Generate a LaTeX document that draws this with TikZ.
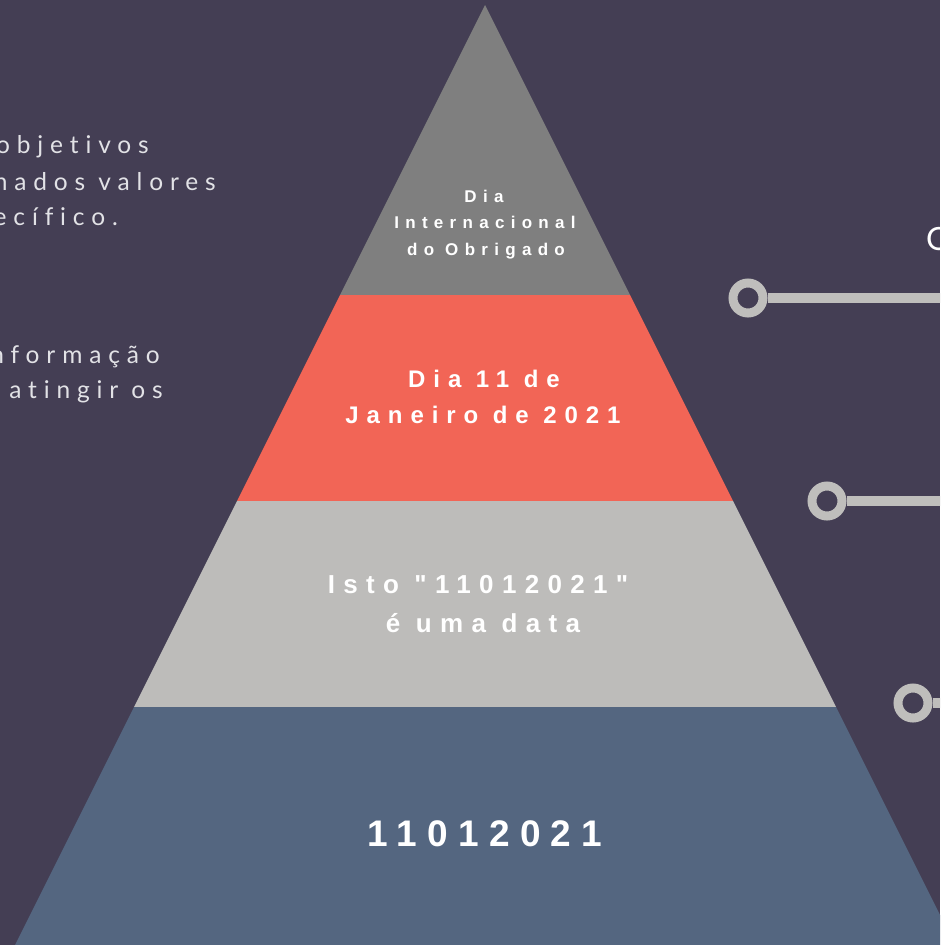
\documentclass[tikz,border=0pt]{standalone}
\usepackage{fontspec}
\setmainfont{Liberation Sans}
\newfontfamily\latofont[LetterSpace=28,Ligatures=NoCommon]{Lato}
\newfontfamily\latoplain{Lato}
\newfontfamily\pyrfontA[LetterSpace=37]{Liberation Sans}
\newfontfamily\pyrfontB[LetterSpace=33]{Liberation Sans}
\newfontfamily\pyrfontC[LetterSpace=32]{Liberation Sans}
\newfontfamily\pyrfontD[LetterSpace=28]{Liberation Sans}
\definecolor{bg}{HTML}{443E54}
\definecolor{topgray}{HTML}{7F7F7F}
\definecolor{redband}{HTML}{F26556}
\definecolor{lightband}{HTML}{BDBCBA}
\definecolor{blueband}{HTML}{546680}
\definecolor{sidetext}{HTML}{E2E2E6}
\definecolor{knob}{HTML}{BFBEBC}
\tikzset{
  band/.style={draw=none},
  pyrtext/.style={text=white, inner sep=0pt, anchor=base},
  lefttext/.style={text=sidetext, inner sep=0pt, anchor=base east, font=\latofont\fontsize{24.5}{30}\selectfont},
  knobring/.style={draw=knob, line width=9pt},
  knobline/.style={draw=knob, line width=10pt}
}
\begin{document}
\begin{tikzpicture}[x=1pt,y=-1pt]
\useasboundingbox (0,0) rectangle (940,945);
\clip (0,0) rectangle (940,945);
\fill[bg] (0,0) rectangle (940,945);
% pyramid bands
\fill[band, topgray] (485,5) -- (630,295) -- (340,295) -- cycle;
\fill[band, redband] (340,295) -- (630,295) -- (733,501) -- (237,501) -- cycle;
\fill[band, lightband] (237,501) -- (733,501) -- (836,707) -- (134,707) -- cycle;
\fill[band, blueband] (134,707) -- (836,707) -- (955,945) -- (15,945) -- cycle;
% pyramid texts
\node[pyrtext, font=\pyrfontA\bfseries\fontsize{17}{20}\selectfont] (t1a) at (484,202) {Dia};
\node[pyrtext, font=\pyrfontA\bfseries\fontsize{17}{20}\selectfont] (t1b) at (485,228) {Internacional};
\node[pyrtext, font=\pyrfontA\bfseries\fontsize{17}{20}\selectfont] (t1c) at (486,255) {do Obrigado};
\node[pyrtext, font=\pyrfontB\bfseries\fontsize{24}{28}\selectfont] (t2a) at (484,387) {Dia 11 de};
\node[pyrtext, font=\pyrfontB\bfseries\fontsize{24}{28}\selectfont] (t2b) at (483,423) {Janeiro de 2021};
\node[pyrtext, font=\pyrfontC\bfseries\fontsize{26}{30}\selectfont] (t3a) at (478,593) {Isto "11012021"};
\node[pyrtext, font=\pyrfontC\bfseries\fontsize{26}{30}\selectfont] (t3b) at (483,632) {é uma data};
\node[pyrtext, font=\pyrfontD\bfseries\fontsize{37}{40}\selectfont] (t4) at (485,846) {11012021};
% left texts
\node[lefttext] (l1) at (149,153) {objetivos};
\node[lefttext] (l2) at (216,190) {nados valores};
\node[lefttext] (l3) at (118,225) {ecífico.};
\node[lefttext] (l4) at (160,363) {nformação};
\node[lefttext] (l5) at (163,398) {atingir os};
% right side
\node[text=white, inner sep=0pt, anchor=base west, font=\latoplain\fontsize{32}{36}\selectfont] (o1) at (926,250) {O};
\node[circle, knobring, minimum size=30pt, inner sep=0pt] (k1) at (748,298) {};
\coordinate (e1) at (945,298);
\draw[knobline] (k1.east) -- (e1);
\node[circle, knobring, minimum size=30pt, inner sep=0pt] (k2) at (827,501) {};
\coordinate (e2) at (945,501);
\draw[knobline] (k2.east) -- (e2);
\node[circle, knobring, minimum size=30pt, inner sep=0pt] (k3) at (913,703) {};
\coordinate (e3) at (945,703);
\draw[knobline] (k3.east) -- (e3);
\end{tikzpicture}
\end{document}
